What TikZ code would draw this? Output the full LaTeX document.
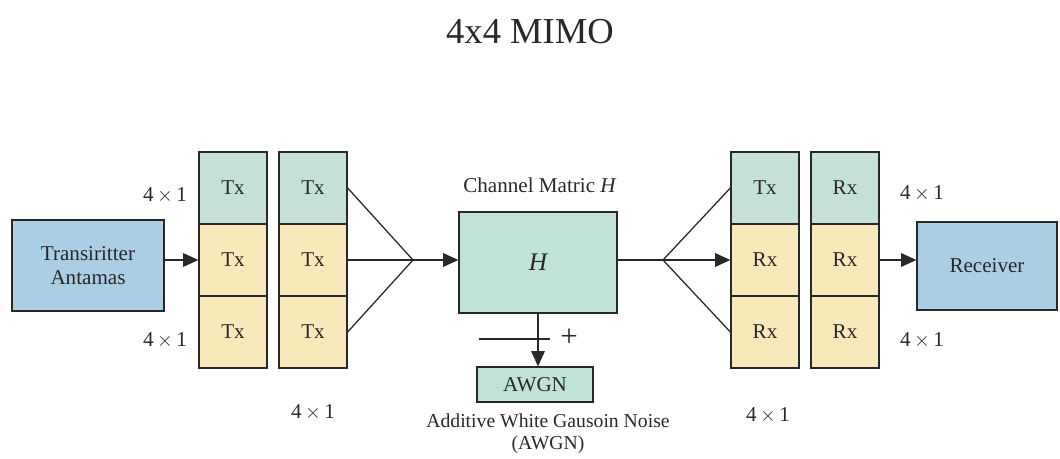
\documentclass[tikz,border=0pt]{standalone}
\usepackage{fontspec}
\setmainfont{Liberation Serif}
\usetikzlibrary{arrows.meta, positioning, calc}

\definecolor{cellteal}{RGB}{197,224,212}
\definecolor{cellyellow}{RGB}{249,233,186}
\definecolor{boxblue}{RGB}{170,206,228}
\definecolor{chanteal}{RGB}{192,226,215}
\definecolor{inkgray}{RGB}{40,40,40}

\begin{document}
\begin{tikzpicture}[
        x=0.025cm, y=-0.025cm,
        every node/.style={font=\fontsize{15}{17}\selectfont, text=inkgray},
        block/.style={draw=inkgray, line width=0.9pt, align=center, inner sep=0pt},
        cell/.style={block, minimum width=1.7cm, minimum height=1.8cm},
        topcell/.style={cell, fill=cellteal},
        midcell/.style={cell, fill=cellyellow},
        link/.style={draw=inkgray, line width=0.9pt},
        arrow/.style={link, -{Triangle[length=3.8mm, width=3.4mm]}}
    ]

    \useasboundingbox (0,0) rectangle (1060,459);

    % Title
    \node[font=\fontsize{26}{30}\selectfont] (title) at (530,32) {4x4 MIMO};

    % Antenna columns
    \foreach \col/\x/\first/\rest in {t1/233/Tx/Tx, t2/313/Tx/Tx, r1/765/Tx/Rx, r2/845/Rx/Rx} {
        \node[topcell] (\col-a) at (\x,188) {\first};
        \node[midcell] (\col-b) at (\x,260) {\rest};
        \node[midcell] (\col-c) at (\x,332) {\rest};
    }

    % Transmitter and receiver
    \node[block, fill=boxblue, minimum width=3.8cm, minimum height=2.275cm] (trans) at (88,265.5) {Transiritter\\Antamas};
    \node[block, fill=boxblue, minimum width=3.5cm, minimum height=2.2cm] (recv) at (987,266) {Receiver};

    % Channel
    \node[block, fill=chanteal, minimum width=3.95cm, minimum height=2.525cm, font=\fontsize{18}{20}\selectfont\itshape] (chan) at (538,262.5) {H};
    \node (chanlabel) at (540,185) {Channel Matric \textit{H}};

    % Noise
    \node[block, fill=chanteal, minimum width=2.9cm, minimum height=0.875cm] (awgn) at (535,384.5) {AWGN};
    \node[align=center, font=\fontsize{14}{16}\selectfont] (noiselabel) at (548,434) {Additive White Gausoin Noise\\(AWGN)};
    \coordinate (minusl) at (479,339);
    \coordinate (minusr) at (550,339);
    \node[font=\fontsize{22}{24}\selectfont] (plus) at (569,338) {+};

    % Size labels
    \node (dimtl) at (165,195) {4\,$\times$\,1};
    \node (dimbl) at (165,340) {4\,$\times$\,1};
    \node (dimtx) at (313,412) {4\,$\times$\,1};
    \node (dimrx) at (768,415) {4\,$\times$\,1};
    \node (dimtr) at (922,193) {4\,$\times$\,1};
    \node (dimbr) at (922,340) {4\,$\times$\,1};

    % Connectors
    \coordinate (txjoin) at (413,260);
    \coordinate (rxjoin) at (663,260);
    \draw[arrow] (trans.east |- t1-b.west) -- (t1-b.west);
    \draw[link] (t2-a.east) -- (txjoin);
    \draw[link] (t2-b.east) -- (txjoin);
    \draw[link] (t2-c.east) -- (txjoin);
    \draw[arrow] (txjoin) -- (txjoin -| chan.west);
    \draw[link] (rxjoin -| chan.east) -- (rxjoin);
    \draw[link] (rxjoin) -- (r1-a.west);
    \draw[arrow] (rxjoin) -- (r1-b.west);
    \draw[link] (rxjoin) -- (r1-c.west);
    \draw[arrow] (r2-b.east) -- (r2-b.east -| recv.west);
    \draw[arrow] (chan.south) -- (chan.south |- awgn.north);
    \draw[link] (minusl) -- (minusr);

\end{tikzpicture}
\end{document}
